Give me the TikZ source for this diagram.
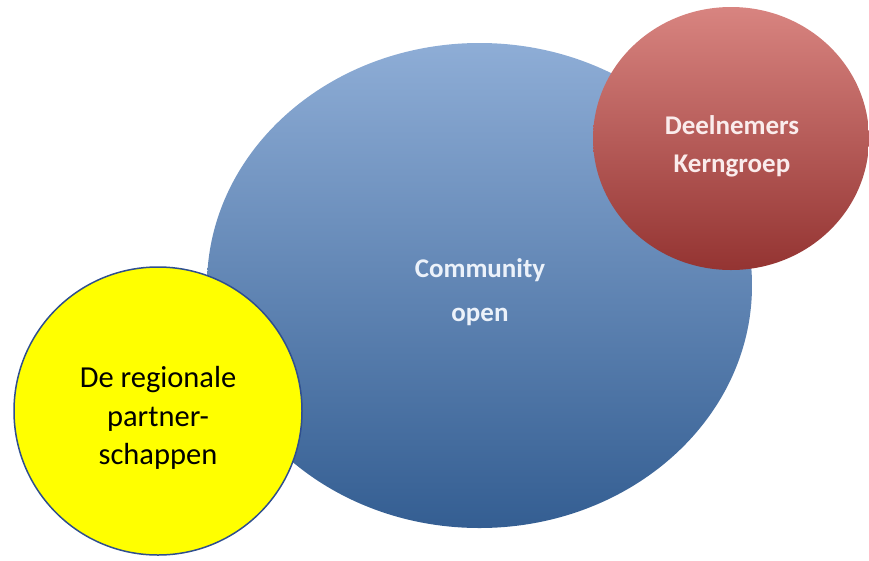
\documentclass[tikz,border=0pt]{standalone}
\usepackage{fontspec}
\setmainfont{Carlito}
\usetikzlibrary{shapes.geometric}
\definecolor{bluetop}{RGB}{142,173,214}
\definecolor{bluemid}{RGB}{86,132,196}
\definecolor{bluebot}{RGB}{52,94,146}
\definecolor{redtop}{RGB}{216,132,128}
\definecolor{redmid}{RGB}{192,80,77}
\definecolor{redbot}{RGB}{148,52,50}
\definecolor{yelfill}{RGB}{255,255,0}
\definecolor{yelborder}{RGB}{47,79,143}
\definecolor{lighttext}{RGB}{236,242,250}
\definecolor{pinktext}{RGB}{250,236,236}
\tikzset{
  bubble/.style={ellipse, inner sep=0pt, draw=none},
  bluebubble/.style={bubble, top color=bluetop, middle color=bluemid, bottom color=bluebot},
  redbubble/.style={bubble, top color=redtop, middle color=redmid, bottom color=redbot},
  yellowbubble/.style={circle, inner sep=0pt, fill=yelfill, draw=yelborder, line width=1.5pt},
  whitelabel/.style={font=\bfseries\fontsize{27}{44}\selectfont, text=lighttext, align=center},
  redlabel/.style={font=\bfseries\fontsize{27}{38}\selectfont, text=pinktext, align=center},
  blacklabel/.style={font=\fontsize{30.5}{38.5}\selectfont, text=black, align=center}
}
\begin{document}
\begin{tikzpicture}[x=1pt,y=-1pt]
\useasboundingbox (0,0) rectangle (869,560);
\node[bluebubble, minimum width=545pt, minimum height=485pt] (blue) at (479.5,285.5) {};
\node[redbubble, minimum width=276pt, minimum height=263pt] (red) at (731,138.5) {};
\node[yellowbubble, minimum size=288pt] (yellow) at (158,411) {};
\node[whitelabel] (bluetext) at (480,292) {Community\\open};
\node[redlabel] (redtext) at (732,146) {Deelnemers\\Kerngroep};
\node[blacklabel] (yellowtext) at (158,418) {De regionale\\partner-\\schappen};
\end{tikzpicture}
\end{document}
